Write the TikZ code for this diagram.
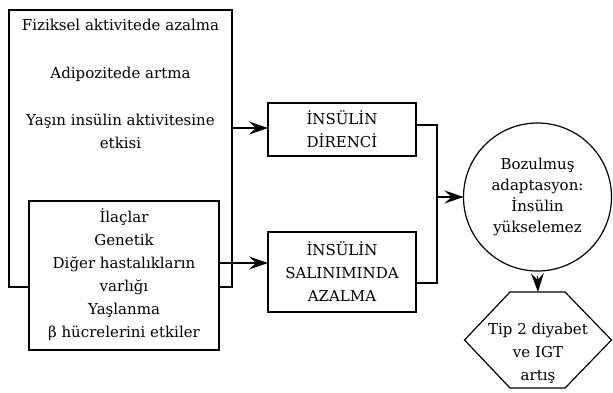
\documentclass[tikz,border=0pt]{standalone}
\usepackage{fontspec}
\setmainfont{DejaVu Serif}
\usetikzlibrary{arrows.meta}
\begin{document}
\begin{tikzpicture}[x=1pt,y=-1pt,
  every node/.style={inner sep=0pt, outer sep=0pt, font=\fontsize{15}{23}\selectfont, align=center},
  boxn/.style={draw, line width=1.2pt, fill=white},
  lnk/.style={line width=1.2pt},
  arr/.style={line width=1.2pt, -{Stealth[length=19pt,width=13pt,inset=7pt]}},
  txt/.style={}]
\useasboundingbox (0,0) rectangle (613,392);
% outer box
\node[boxn, minimum width=223pt, minimum height=277pt] (outer) at (120.5,148.5) {};
\node[txt] (t1) at (120.5,25) {Fiziksel aktivitede azalma};
\node[txt] (t2) at (120.5,74) {Adipozitede artma};
\node[txt] (t3) at (120.5,131) {Yaşın insülin aktivitesine\\etkisi};
% inner box
\node[boxn, minimum width=190pt, minimum height=149pt] (inner) at (124,275.5) {};
\node[txt] (t4) at (124,275) {İlaçlar\\Genetik\\Diğer hastalıkların\\varlığı\\Yaşlanma\\β hücrelerini etkiler};
% middle boxes
\node[boxn, minimum width=148pt, minimum height=53pt] (d1) at (342,129.5) {İNSÜLİN\\DİRENCİ};
\node[boxn, minimum width=148pt, minimum height=80pt] (d2) at (342,272) {İNSÜLİN\\SALINIMINDA\\AZALMA};
% circle
\node[draw, circle, line width=1.2pt, minimum size=148pt, font=\fontsize{15}{21}\selectfont] (circ) at (537.5,197) {Bozulmuş\\adaptasyon:\\İnsülin\\yükselemez};
% hexagon
\node[minimum width=147pt, minimum height=96pt] (hex) at (538,340) {};
\draw[line width=1.2pt] ([xshift=-28pt]hex.north) -- ([xshift=27pt]hex.north) -- (hex.east) -- ([xshift=27pt]hex.south) -- ([xshift=-28pt]hex.south) -- (hex.west) -- cycle;
\node[txt] (ht) at (538,353) {Tip 2 diyabet\\ve IGT\\artış};
% connectors
\draw[arr] (outer.east |- 0,128) -- (d1.west |- 0,128);
\draw[arr] (inner.east |- 0,263) -- (d2.west |- 0,263);
\coordinate (j) at (437,197);
\draw[lnk] (d1.east |- 0,125) -| (j |- 0,283) -- (d2.east |- 0,283);
\draw[arr] (j) -- (circ.west);
\draw[arr] ([yshift=-5pt]circ.south) -- (hex.north);
\end{tikzpicture}
\end{document}
